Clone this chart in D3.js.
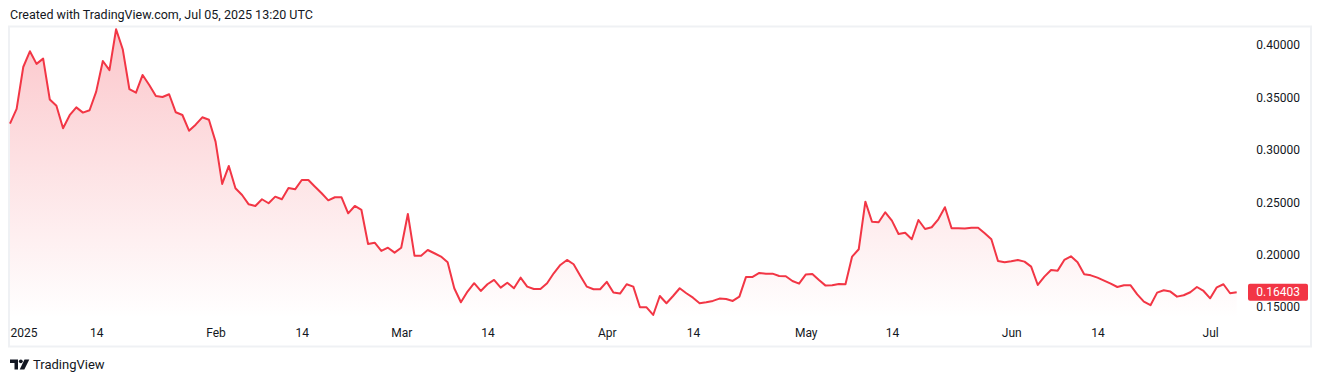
<!DOCTYPE html>
<html>
<head>
<meta charset="utf-8">
<script src="https://cdn.jsdelivr.net/npm/d3@7"></script>
<style>
    body { margin: 0; background: #ffffff; }
    svg { display: block; font-family: Roboto, "Noto Sans", sans-serif; }
</style>
</head>
<body>
<div id="chart"></div>
<script>
// Daily closes, Jan 1 2025 -> Jul 5 2025
const startDate = new Date(2025, 0, 1);
const closes = [
    0.325, 0.339, 0.379, 0.394, 0.382, 0.387, 0.348, 0.342, 0.3205, 0.333,
    0.3405, 0.3355, 0.3377, 0.3555, 0.3847, 0.376, 0.415, 0.396, 0.358, 0.3545,
    0.3714, 0.3618, 0.3513, 0.3504, 0.353, 0.3358, 0.3332, 0.3182, 0.324, 0.331,
    0.3287, 0.3078, 0.2674, 0.2846, 0.2633, 0.2569, 0.248, 0.2464, 0.2528, 0.249,
    0.2553, 0.2528, 0.2636, 0.2623, 0.2712, 0.2712, 0.2648, 0.2585, 0.2518, 0.2547,
    0.2547, 0.2394, 0.2464, 0.2426, 0.2101, 0.2114, 0.2035, 0.2066, 0.2019, 0.2066,
    0.2388, 0.199, 0.199, 0.2044, 0.2013, 0.1981, 0.1927, 0.1679, 0.1545, 0.1647,
    0.1727, 0.1653, 0.1717, 0.1758, 0.1685, 0.1732, 0.1679, 0.178, 0.1694, 0.1672,
    0.1672, 0.1727, 0.1822, 0.1901, 0.1949, 0.1908, 0.1799, 0.1694, 0.1669, 0.1669,
    0.174, 0.1639, 0.1628, 0.1717, 0.1694, 0.1497, 0.1497, 0.1424, 0.1605, 0.1536,
    0.1605, 0.1679, 0.1631, 0.1589, 0.1536, 0.1545, 0.1558, 0.158, 0.1577, 0.1558,
    0.1599, 0.1787, 0.1787, 0.1825, 0.1818, 0.1818, 0.1796, 0.1793, 0.1748, 0.1723,
    0.1809, 0.1815, 0.1758, 0.1704, 0.1707, 0.172, 0.1717, 0.1981, 0.2051, 0.2505,
    0.2314, 0.2308, 0.2404, 0.2324, 0.2197, 0.2209, 0.2146, 0.233, 0.2244, 0.2261,
    0.2337, 0.2452, 0.2251, 0.2251, 0.2248, 0.2257, 0.2257, 0.2204, 0.2146, 0.1939,
    0.1927, 0.1936, 0.1949, 0.1933, 0.1885, 0.171, 0.179, 0.1853, 0.1847, 0.1949,
    0.1984, 0.1927, 0.1812, 0.1802, 0.178, 0.1751, 0.1723, 0.1691, 0.1707, 0.1707,
    0.1621, 0.1551, 0.1517, 0.1637, 0.166, 0.1647, 0.1599, 0.1612, 0.1641, 0.1691,
    0.1653, 0.1583, 0.1688, 0.1717, 0.1631, 0.16403
];

// Time axis labels
const timeTicks = [
    new Date(2025, 0, 1), new Date(2025, 0, 14), new Date(2025, 1, 1), new Date(2025, 1, 14),
    new Date(2025, 2, 1), new Date(2025, 2, 14), new Date(2025, 3, 1), new Date(2025, 3, 14),
    new Date(2025, 4, 1), new Date(2025, 4, 14), new Date(2025, 5, 1), new Date(2025, 5, 14),
    new Date(2025, 6, 1)
];
const timeLabels = ["2025", "14", "Feb", "14", "Mar", "14", "Apr", "14", "May", "14", "Jun", "14", "Jul"];

// Price axis labels
const priceTicks = [0.15, 0.20, 0.25, 0.30, 0.35, 0.40];

const lineColor = "#f23645";
const textColor = "#131722";

const data = closes.map((v, i) => ({ date: d3.timeDay.offset(startDate, i), value: v }));
const last = data[data.length - 1];

const svg = d3.select("#chart")
    .append("svg")
    .attr("width", 1322)
    .attr("height", 382);

// Header
svg.append("text")
    .attr("x", 10)
    .attr("y", 19)
    .attr("font-size", "12.5px")
    .attr("fill", textColor)
    .text("Created with TradingView.com, Jul 05, 2025 13:20 UTC");

// Frame
svg.append("rect")
    .attr("x", 9)
    .attr("y", 26.5)
    .attr("width", 1302)
    .attr("height", 320)
    .attr("fill", "none")
    .attr("stroke", "#eff1f4")
    .attr("stroke-width", 2);

const x = d3.scaleTime()
    .domain([startDate, last.date])
    .range([10, 1236.7]);

const y = d3.scaleLinear()
    .domain([0.15, 0.40])
    .range([307, 45]);

// Area gradient
const grad = svg.append("defs").append("linearGradient")
    .attr("id", "areaFill")
    .attr("gradientUnits", "userSpaceOnUse")
    .attr("x1", 0).attr("y1", 28)
    .attr("x2", 0).attr("y2", 318);
grad.append("stop").attr("offset", "0%").attr("stop-color", lineColor).attr("stop-opacity", 0.28);
grad.append("stop").attr("offset", "100%").attr("stop-color", lineColor).attr("stop-opacity", 0.0);

const area = d3.area()
    .x(d => x(d.date))
    .y0(318)
    .y1(d => y(d.value));

const line = d3.line()
    .x(d => x(d.date))
    .y(d => y(d.value));

svg.append("path")
    .datum(data)
    .attr("d", area)
    .attr("fill", "url(#areaFill)");

svg.append("path")
    .datum(data)
    .attr("d", line)
    .attr("fill", "none")
    .attr("stroke", lineColor)
    .attr("stroke-width", 2)
    .attr("stroke-linejoin", "round");

// Time axis
const xAxis = svg.append("g")
    .attr("transform", "translate(0,320)")
    .call(d3.axisBottom(x)
        .tickValues(timeTicks)
        .tickFormat((d, i) => timeLabels[i])
        .tickSize(0)
        .tickPadding(8));
xAxis.select(".domain").remove();
xAxis.selectAll("text")
    .attr("fill", textColor)
    .attr("font-size", "12px")
    .attr("font-family", "Roboto, sans-serif");
// first label sits against the left edge
xAxis.select(".tick text").attr("text-anchor", "start");

// Price axis
const yAxis = svg.append("g")
    .attr("transform", "translate(1300,0)")
    .call(d3.axisLeft(y)
        .tickValues(priceTicks)
        .tickFormat(d3.format(".5f"))
        .tickSize(0)
        .tickPadding(0));
yAxis.select(".domain").remove();
yAxis.selectAll("text")
    .attr("fill", textColor)
    .attr("font-size", "12px")
    .attr("font-family", "Roboto, sans-serif");

// Last value label
const ly = y(last.value);
svg.append("rect")
    .attr("x", 1248)
    .attr("y", ly - 8.5)
    .attr("width", 60)
    .attr("height", 17)
    .attr("rx", 2)
    .attr("fill", lineColor);
svg.append("text")
    .attr("x", 1300)
    .attr("y", ly)
    .attr("dy", "0.35em")
    .attr("text-anchor", "end")
    .attr("font-size", "12px")
    .attr("fill", "#ffffff")
    .text(d3.format(".5f")(last.value));

// TradingView logo
const logo = svg.append("g").attr("fill", textColor);
logo.append("path").attr("d", "M10 359.5h8v10h-3.5v-6.5h-4.5z");
logo.append("circle").attr("cx", 20.8).attr("cy", 361.3).attr("r", 1.9);
logo.append("path").attr("d", "M24.5 359.5h4.8l-5 10h-4.6z");
svg.append("text")
    .attr("x", 33)
    .attr("y", 369)
    .attr("font-size", "13px")
    .attr("fill", textColor)
    .text("TradingView");
</script>
</body>
</html>
